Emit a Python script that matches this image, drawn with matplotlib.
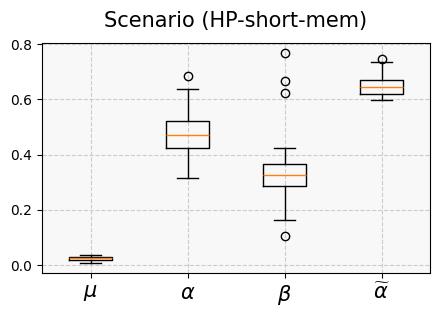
import matplotlib
matplotlib.use("Agg")
import matplotlib.pyplot as plt

labels = [r'$\mu$', r'$\alpha$', r'$\beta$', r'$\widetilde{\alpha}$']
whislo = [0.010, 0.316, 0.165, 0.597]
q1 = [0.019, 0.424, 0.285, 0.619]
med = [0.025, 0.470, 0.327, 0.644]
q3 = [0.030, 0.522, 0.366, 0.669]
whishi = [0.038, 0.637, 0.424, 0.734]
fliers = [[], [0.685], [0.766, 0.666, 0.622, 0.107], [0.746]]

stats = []
for i in range(len(labels)):
    stats.append(dict(label=labels[i], whislo=whislo[i], q1=q1[i], med=med[i],
                      q3=q3[i], whishi=whishi[i], fliers=fliers[i]))

fig = plt.figure(figsize=(4.39, 3.17), dpi=100)
ax = fig.add_axes([0.0957, 0.1388, 0.8838, 0.7256])
ax.set_facecolor('#f8f8f8')
ax.bxp(stats, widths=0.45)
ax.grid(True, linestyle='--', color='#cccccc', linewidth=0.8)
ax.set_axisbelow(True)
ax.tick_params(axis='x', labelsize=15)
ax.tick_params(axis='y', labelsize=10)
ax.set_yticks([0.0, 0.2, 0.4, 0.6, 0.8])
ax.set_title('Scenario (HP-short-mem)', fontsize=15, pad=11.5)
fig.savefig('out.png', dpi=100)
